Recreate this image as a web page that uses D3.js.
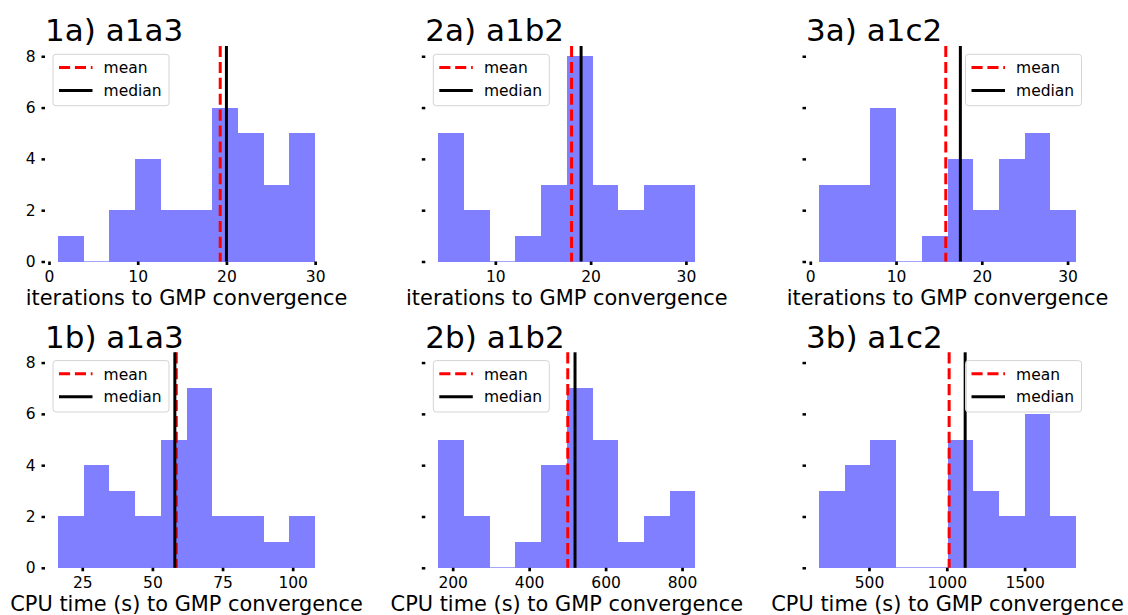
<!DOCTYPE html>
<html>
<head>
<meta charset="utf-8">
<script src="https://cdn.jsdelivr.net/npm/d3@7"></script>
<style>
  body { margin: 0; background: #fff; }
  text { font-family: "DejaVu Sans", sans-serif; }
</style>
</head>
<body>
<script>
// Data
var titles = ["1a) a1a3", "2a) a1b2", "3a) a1c2", "1b) a1a3", "2b) a1b2", "3b) a1c2"];
var xLabels = ["iterations to GMP convergence", "CPU time (s) to GMP convergence"];
var legendNames = ["mean", "median"];
var yTicks = [0, 2, 4, 6, 8];

var edges1a = [1, 3.9, 6.8, 9.7, 12.6, 15.5, 18.4, 21.3, 24.2, 27.1, 30];
var counts1a = [1, 0, 2, 4, 2, 2, 6, 5, 3, 5];
var edges2a = [4, 6.7, 9.4, 12.1, 14.8, 17.5, 20.2, 22.9, 25.6, 28.3, 31];
var counts2a = [5, 2, 0, 1, 3, 8, 3, 2, 3, 3];
var edges3a = [1, 4, 7, 10, 13, 16, 19, 22, 25, 28, 31];
var counts3a = [3, 3, 6, 0, 1, 4, 2, 4, 5, 2];
var edges1b = [16.3, 25.5, 34.6, 43.8, 53.0, 62.2, 71.3, 80.5, 89.7, 98.8, 108];
var counts1b = [2, 4, 3, 2, 5, 7, 2, 2, 1, 2];
var edges2b = [162, 230, 297, 364, 431, 499, 566, 633, 700, 768, 835];
var counts2b = [5, 2, 0, 1, 4, 7, 5, 1, 2, 3];
var edges3b = [178, 343, 509, 674, 839, 1005, 1170, 1335, 1500, 1666, 1831];
var counts3b = [3, 4, 5, 0, 0, 5, 3, 2, 6, 2];

var means = [19.3, 18.0, 15.8, 58.5, 501, 1015];
var medians = [20, 19, 17.5, 58, 520, 1118];

var xTicks = [[0, 10, 20, 30], [10, 20, 30], [0, 10, 20, 30],
              [25, 50, 75, 100], [200, 400, 600, 800], [500, 1000, 1500]];

var allEdges = [edges1a, edges2a, edges3a, edges1b, edges2b, edges3b];
var allCounts = [counts1a, counts2a, counts3a, counts1b, counts2b, counts3b];

// Layout
var W = 1128, H = 615;
var axLeft = [45, 425.3, 806], axW = 283;
var axTop = [46, 352.3], axH = 215.5;

var svg = d3.select("body").append("svg")
    .attr("width", W)
    .attr("height", H);

for (var p = 0; p < 6; p++) {
  var col = p % 3, row = Math.floor(p / 3);
  var edges = allEdges[p], counts = allCounts[p];
  var lo = edges[0], hi = edges[edges.length - 1], pad = (hi - lo) * 0.05;

  var x = d3.scaleLinear().domain([lo - pad, hi + pad]).range([0, axW]);
  var y = d3.scaleLinear().domain([0, 8.4]).range([axH, 0]);

  var g = svg.append("g")
      .attr("transform", "translate(" + axLeft[col] + "," + axTop[row] + ")");

  // bars (zero bins still leave a hairline like matplotlib)
  var bins = counts.map(function(c, i) { return {x0: edges[i], x1: edges[i + 1], n: c}; });
  g.selectAll("rect.bar").data(bins).enter().append("rect")
      .attr("class", "bar")
      .attr("x", function(d) { return x(d.x0); })
      .attr("width", function(d) { return x(d.x1) - x(d.x0); })
      .attr("y", function(d) { return d.n ? y(d.n) : axH - 1; })
      .attr("height", function(d) { return d.n ? y(0) - y(d.n) : 1; })
      .attr("shape-rendering", "crispEdges")
      .style("fill", "blue")
      .style("fill-opacity", function(d) { return d.n ? 0.5 : 0.35; });

  // mean / median lines
  g.append("line")
      .attr("x1", x(means[p])).attr("x2", x(means[p]))
      .attr("y1", 0).attr("y2", axH)
      .style("stroke", "red").style("stroke-width", 3)
      .style("stroke-dasharray", "11.1,4.8");
  g.append("line")
      .attr("x1", x(medians[p])).attr("x2", x(medians[p]))
      .attr("y1", 0).attr("y2", axH)
      .style("stroke", "black").style("stroke-width", 3);

  // axes
  var yaxis = d3.axisLeft(y).tickValues(yTicks).tickSize(3.5).tickPadding(5.8)
      .tickFormat(col === 0 ? d3.format("d") : function() { return ""; });
  var ya = g.append("g").call(yaxis);
  ya.select(".domain").remove();
  ya.selectAll("line").style("stroke-width", 2.5);
  ya.selectAll("text").style("font-size", "15.5px").style("fill", "#000");

  var xaxis = d3.axisBottom(x).tickValues(xTicks[p]).tickSize(3.5).tickPadding(6)
      .tickFormat(d3.format("d"));
  var xa = g.append("g").attr("transform", "translate(0," + axH + ")").call(xaxis);
  xa.select(".domain").remove();
  xa.selectAll("line").style("stroke-width", 2.7);
  xa.selectAll("text").style("font-size", "15.5px").style("fill", "#000");

  // x label
  g.append("text")
      .attr("x", axW / 2).attr("y", axH + 43)
      .attr("text-anchor", "middle")
      .style("font-size", "20.9px")
      .text(xLabels[row]);

  // title
  g.append("text")
      .attr("x", 0).attr("y", -4.8)
      .style("font-size", "31px")
      .text(titles[p]);

  // legend
  var lw = 116, lh = 51.4;
  var lx = col === 2 ? axW - 7.5 - lw : 8;
  var leg = g.append("g").attr("transform", "translate(" + lx + ",8.3)");
  leg.append("rect")
      .attr("width", lw).attr("height", lh).attr("rx", 3)
      .style("fill", "white").style("fill-opacity", 0.8)
      .style("stroke", "#d4d4d4").style("stroke-width", 1);
  legendNames.forEach(function(name, i) {
    leg.append("line")
        .attr("x1", 6).attr("x2", 39.5)
        .attr("y1", 13.2 + i * 23).attr("y2", 13.2 + i * 23)
        .style("stroke", i === 0 ? "red" : "black").style("stroke-width", 3)
        .style("stroke-dasharray", i === 0 ? "11.1,4.8" : null);
    leg.append("text")
        .attr("x", 50.6).attr("y", 19 + i * 22.7)
        .style("font-size", "15.5px")
        .text(name);
  });
}
</script>
</body>
</html>
